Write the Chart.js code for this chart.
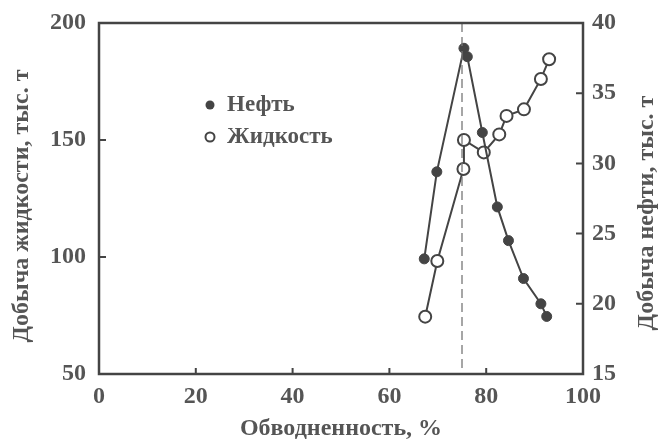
<!DOCTYPE html>
<html>
<head>
<meta charset="utf-8">
<script src="https://cdn.jsdelivr.net/npm/chart.js@4/dist/chart.umd.min.js"></script>
<style>
  html, body { margin: 0; padding: 0; background: #fff; }
  #wrap { width: 662px; height: 443px; }
</style>
</head>
<body>
<div id="wrap"><canvas id="chart"></canvas></div>
<script>
// water cut, % and production values
const oilCut = [67.2, 69.8, 75.4, 76.1, 79.2, 82.3, 84.6, 87.7, 91.3, 92.5];
const oilProd = [23.2, 29.4, 38.2, 37.6, 32.2, 26.9, 24.5, 21.8, 20.0, 19.1];
const liquidCut = [67.4, 69.9, 75.3, 75.4, 79.5, 82.7, 84.2, 87.8, 91.3, 93.0];
const liquidProd = [74.5, 98.3, 137.6, 150.0, 144.7, 152.4, 160.3, 163.1, 176.1, 184.5];
const xTicks = [0, 20, 40, 60, 80, 100];
const leftTicks = [50, 100, 150, 200];
const rightTicks = [15, 20, 25, 30, 35, 40];
const peakCut = 75;

const ink = '#444';
const textCol = '#555';
const serif = '"Liberation Serif", "DejaVu Serif", serif';
const tickFont = { family: serif, size: 24, weight: 'bold' };

const toPoints = (xs, ys) => xs.map((x, i) => ({ x: x, y: ys[i] }));

function vText(ctx, text, x, y) {
  ctx.save();
  ctx.translate(x, y);
  ctx.rotate(-Math.PI / 2);
  ctx.textAlign = 'center';
  ctx.textBaseline = 'middle';
  ctx.fillText(text, 0, 0);
  ctx.restore();
}

const framePlugin = {
  id: 'frame',
  afterDraw(chart) {
    const { ctx, chartArea: a, scales } = chart;
    ctx.save();
    // dashed line at the oil peak
    const px = scales.x.getPixelForValue(peakCut);
    ctx.strokeStyle = '#777';
    ctx.lineWidth = 1.3;
    ctx.setLineDash([9, 5]);
    ctx.beginPath();
    ctx.moveTo(px, a.top);
    ctx.lineTo(px, a.bottom);
    ctx.stroke();
    ctx.setLineDash([]);

    // inward tick marks
    ctx.strokeStyle = ink;
    ctx.lineWidth = 2;
    ctx.beginPath();
    xTicks.slice(1, -1).forEach(v => {
      const x = scales.x.getPixelForValue(v);
      ctx.moveTo(x, a.bottom); ctx.lineTo(x, a.bottom - 6);
    });
    leftTicks.slice(1, -1).forEach(v => {
      const y = scales.y.getPixelForValue(v);
      ctx.moveTo(a.left, y); ctx.lineTo(a.left + 7, y);
    });
    rightTicks.slice(1, -1).forEach(v => {
      const y = scales.y2.getPixelForValue(v);
      ctx.moveTo(a.right, y); ctx.lineTo(a.right - 7, y);
    });
    ctx.stroke();

    // frame
    ctx.lineWidth = 2.5;
    ctx.strokeRect(a.left, a.top, a.right - a.left, a.bottom - a.top);

    // axis titles, both read bottom to top
    ctx.fillStyle = textCol;
    ctx.font = 'bold 24px ' + serif;
    vText(ctx, 'Добыча жидкости, тыс. т', 22, 206);
    vText(ctx, 'Добыча нефти, тыс. т', 647, 213);

    // legend inside the plot
    ctx.font = 'bold 23px ' + serif;
    ctx.textBaseline = 'middle';
    ctx.fillText('Нефть', 227, 105);
    ctx.fillText('Жидкость', 227, 137);
    ctx.fillStyle = ink;
    ctx.beginPath();
    ctx.arc(210, 105, 4.5, 0, Math.PI * 2);
    ctx.fill();
    ctx.fillStyle = '#fff';
    ctx.lineWidth = 2;
    ctx.beginPath();
    ctx.arc(210, 137, 4.5, 0, Math.PI * 2);
    ctx.fill();
    ctx.stroke();
    ctx.restore();
  }
};

const fitY = w => s => { s.width = w; s.paddingTop = 0; s.paddingBottom = 0; };

new Chart(document.getElementById('chart'), {
  type: 'line',
  data: {
    datasets: [{
      label: 'Нефть',
      data: toPoints(oilCut, oilProd),
      yAxisID: 'y2',
      borderColor: ink,
      backgroundColor: ink,
      borderWidth: 2,
      pointRadius: 5,
      pointBorderWidth: 1,
      pointBackgroundColor: ink,
      tension: 0
    }, {
      label: 'Жидкость',
      data: toPoints(liquidCut, liquidProd),
      yAxisID: 'y',
      borderColor: ink,
      backgroundColor: '#fff',
      borderWidth: 2,
      pointRadius: 6,
      pointBorderWidth: 2,
      pointBackgroundColor: '#fff',
      tension: 0
    }]
  },
  options: {
    responsive: true,
    maintainAspectRatio: false,
    animation: false,
    layout: { padding: { top: 23, left: 0, right: 0, bottom: 0 } },
    plugins: {
      legend: { display: false },
      tooltip: { enabled: false }
    },
    scales: {
      x: {
        type: 'linear',
        min: 0, max: 100,
        afterBuildTicks: s => { s.ticks = xTicks.map(v => ({ value: v })); },
        afterFit: s => { s.height = 69; s.paddingLeft = 0; s.paddingRight = 0; },
        grid: { display: false, drawTicks: false },
        border: { display: false },
        ticks: { color: textCol, font: tickFont, padding: 8, maxRotation: 0 },
        title: { display: true, text: 'Обводненность, %', color: textCol, font: { family: serif, size: 24, weight: 'bold' }, padding: { top: 0, bottom: 0 } }
      },
      y: {
        position: 'left',
        min: 50, max: 200,
        afterBuildTicks: s => { s.ticks = leftTicks.map(v => ({ value: v })); },
        afterFit: fitY(99),
        grid: { display: false, drawTicks: false },
        border: { display: false },
        ticks: { color: textCol, font: tickFont, padding: 13 }
      },
      y2: {
        position: 'right',
        min: 15, max: 40,
        afterBuildTicks: s => { s.ticks = rightTicks.map(v => ({ value: v })); },
        afterFit: fitY(79),
        grid: { display: false, drawTicks: false },
        border: { display: false },
        ticks: { color: textCol, font: tickFont, padding: 9 }
      }
    }
  },
  plugins: [framePlugin]
});
</script>
</body>
</html>
